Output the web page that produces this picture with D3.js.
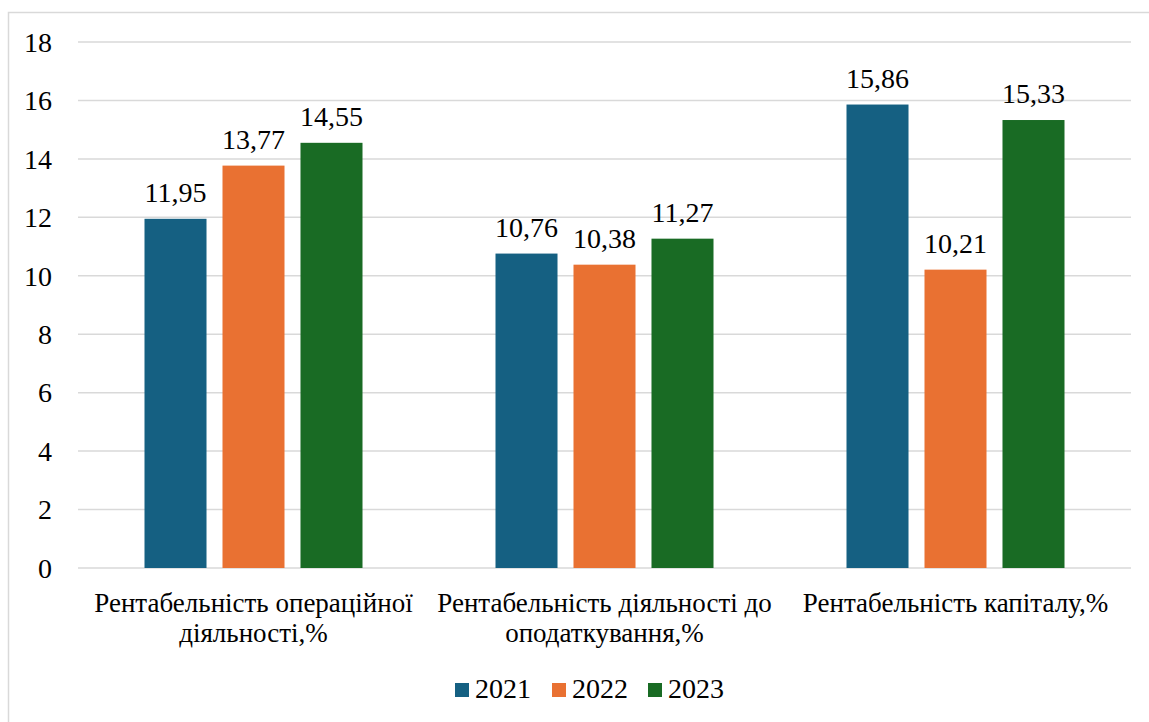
<!DOCTYPE html>
<html>
<head>
<meta charset="utf-8">
<script src="https://cdn.jsdelivr.net/npm/d3@7"></script>
<style>
  html, body { margin: 0; padding: 0; background: #fff; }
  svg { display: block; font-family: 'Liberation Serif', serif; }
</style>
</head>
<body>
<svg id="fig" width="1149" height="722" font-family="Liberation Serif"></svg>
<script>
const categories = [
  ["Рентабельність операційної", "діяльності,%"],
  ["Рентабельність діяльності до", "оподаткування,%"],
  ["Рентабельність капіталу,%"]
];
const years = ["2021", "2022", "2023"];
const values2021 = [11.95, 10.76, 15.86];
const values2022 = [13.77, 10.38, 10.21];
const values2023 = [14.55, 11.27, 15.33];
const yTicks = [0, 2, 4, 6, 8, 10, 12, 14, 16, 18];
const colors = ["#156082", "#E97132", "#196B24"];

const series = [values2021, values2022, values2023];
const width = 1149, height = 722;
const margin = { top: 42, right: 1131, bottom: 568, left: 78 };
const FONT = "'Liberation Serif', serif";

const svg = d3.select("#fig");

// applies the serif face with priority so nothing else overrides it
const serif = (sel, size) => sel
  .attr("font-family", "Liberation Serif")
  .attr("font-size", size)
  .style("font-family", FONT, "important")
  .style("font-size", `${size}px`, "important");

// outer frame
svg.append("path")
  .attr("d", `M8.5,${height + 2}V12.5H${width + 2}`)
  .attr("fill", "none")
  .attr("stroke", "#d9d9d9")
  .attr("stroke-width", 1.5);

const y = d3.scaleLinear().domain([0, 18]).range([margin.bottom, margin.top]);
const x0 = d3.scaleBand().domain(d3.range(categories.length)).range([margin.left, margin.right]);
const groupW = 218;
const x1 = d3.scaleBand()
  .domain(years)
  .range([(x0.bandwidth() - groupW) / 2, (x0.bandwidth() + groupW) / 2])
  .paddingInner(0.205);

// gridlines
svg.append("g")
  .selectAll("line")
  .data(yTicks)
  .join("line")
  .attr("x1", margin.left)
  .attr("x2", margin.right)
  .attr("y1", (d) => y(d))
  .attr("y2", (d) => y(d))
  .attr("stroke", "#d9d9d9")
  .attr("stroke-width", 1.5);

// y tick labels
svg.append("g")
  .selectAll("text")
  .data(yTicks)
  .join("text")
  .attr("x", 52)
  .attr("y", (d) => y(d))
  .attr("dy", "0.35em")
  .attr("text-anchor", "end")
  .attr("fill", "#000")
  .call(serif, 28)
  .text((d) => d);

const fmt = (v) => d3.format(".2f")(v).replace(".", ",");

// bars
const groups = svg.append("g")
  .selectAll("g")
  .data(categories)
  .join("g")
  .attr("transform", (d, i) => `translate(${x0(i)},0)`);

groups.each(function (cat, ci) {
  const g = d3.select(this);
  const rows = years.map((yr, si) => ({ yr, si, v: series[si][ci] }));
  g.selectAll("rect")
    .data(rows)
    .join("rect")
    .attr("x", (d) => x1(d.yr))
    .attr("y", (d) => y(d.v))
    .attr("width", x1.bandwidth())
    .attr("height", (d) => y(0) - y(d.v))
    .attr("fill", (d) => colors[d.si]);
  g.selectAll("text.val")
    .data(rows)
    .join("text")
    .attr("class", "val")
    .attr("x", (d) => x1(d.yr) + x1.bandwidth() / 2)
    .attr("y", (d) => y(d.v) - 17)
    .attr("text-anchor", "middle")
    .attr("fill", "#000")
    .call(serif, 28)
    .text((d) => fmt(d.v));
});

// category labels
groups.append("text")
  .attr("x", x0.bandwidth() / 2)
  .attr("y", 612)
  .attr("text-anchor", "middle")
  .attr("fill", "#000")
  .call(serif, 27)
  .selectAll("tspan")
  .data((d) => d)
  .join("tspan")
  .attr("x", x0.bandwidth() / 2)
  .attr("dy", (d, i) => (i === 0 ? 0 : 30))
  .text((d) => d);

// legend
const legendX = [455, 552, 648];
const legend = svg.append("g")
  .selectAll("g")
  .data(years)
  .join("g")
  .attr("transform", (d, i) => `translate(${legendX[i]},683)`);
legend.append("rect")
  .attr("width", 14)
  .attr("height", 14)
  .attr("fill", (d, i) => colors[i]);
legend.append("text")
  .attr("x", 20)
  .attr("y", 15)
  .attr("fill", "#000")
  .call(serif, 28)
  .text((d) => d);
</script>
</body>
</html>
